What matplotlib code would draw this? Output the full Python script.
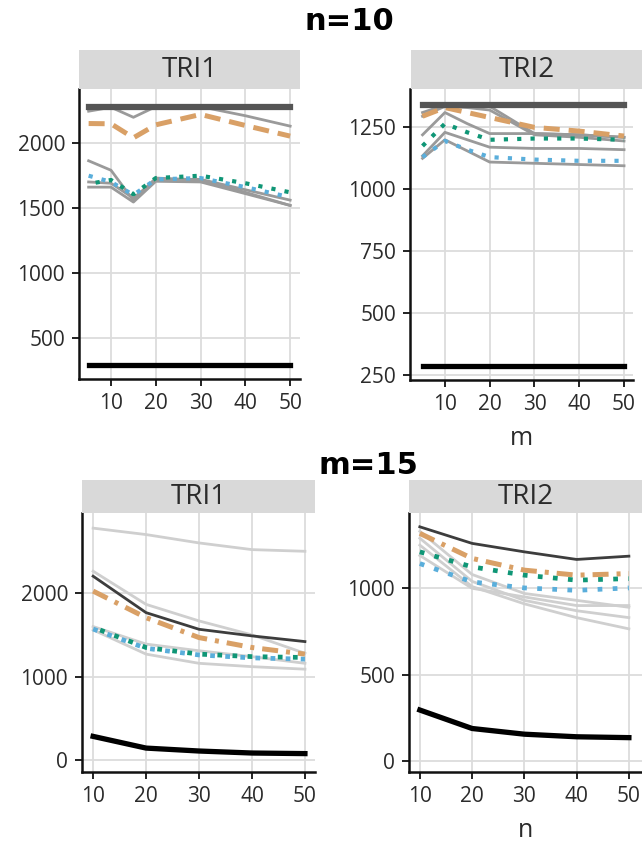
import matplotlib
matplotlib.use("Agg")
import matplotlib.pyplot as plt

# ---------------- data ----------------
m_values = [5, 10, 15, 20, 30, 40, 50]
n_values = [10, 20, 30, 40, 50]
x_ticks = [10, 20, 30, 40, 50]

# n = 10, TRI1 (x = m)
n10_tri1_dark   = [2280, 2280, 2280, 2280, 2280, 2280, 2280]
n10_tri1_grey1  = [2245, 2275, 2198, 2280, 2280, 2210, 2130]
n10_tri1_orange = [2150, 2148, 2040, 2140, 2220, 2135, 2053]
n10_tri1_grey2  = [1863, 1790, 1557, 1730, 1715, 1620, 1519]
n10_tri1_grey3  = [1700, 1690, 1575, 1720, 1720, 1640, 1560]
n10_tri1_grey4  = [1660, 1660, 1545, 1705, 1700, 1610, 1519]
n10_tri1_blue   = [1748, 1700, 1600, 1720, 1730, 1660, 1582]
n10_tri1_teal   = [1685, 1715, 1605, 1730, 1748, 1690, 1620]
n10_tri1_black  = [286, 286, 286, 286, 286, 286, 286]

# n = 10, TRI2 (x = m)
n10_tri2_dark   = [1340, 1340, 1340, 1340, 1340, 1340, 1340]
n10_tri2_greyA  = [1310, 1340, 1338, 1335, 1225, 1220, 1210]
n10_tri2_greyB  = [1295, 1335, 1330, 1320, 1220, 1210, 1195]
n10_tri2_orange = [1295, 1330, 1310, 1290, 1250, 1235, 1215]
n10_tri2_greyC  = [1220, 1310, 1265, 1225, 1225, 1220, 1210]
n10_tri2_teal   = [1175, 1265, 1230, 1200, 1205, 1205, 1200]
n10_tri2_greyD  = [1135, 1230, 1200, 1170, 1165, 1165, 1160]
n10_tri2_blue   = [1130, 1195, 1160, 1130, 1120, 1115, 1115]
n10_tri2_greyE  = [1125, 1200, 1155, 1110, 1105, 1100, 1095]
n10_tri2_black  = [286, 286, 286, 286, 286, 286, 286]

# m = 15, TRI1 (x = n)
m15_tri1_grey1  = [2777, 2700, 2600, 2520, 2500]
m15_tri1_grey2  = [2262, 1865, 1667, 1500, 1280]
m15_tri1_grey3  = [1600, 1390, 1310, 1240, 1160]
m15_tri1_grey4  = [1560, 1270, 1160, 1120, 1090]
m15_tri1_dark   = [2202, 1766, 1567, 1488, 1420]
m15_tri1_orange = [2024, 1706, 1468, 1349, 1270]
m15_tri1_blue   = [1570, 1340, 1260, 1225, 1210]
m15_tri1_teal   = [1590, 1349, 1270, 1240, 1230]
m15_tri1_black  = [286, 146, 111, 87, 80]

# m = 15, TRI2 (x = n)
m15_tri2_grey1  = [1330, 1080, 970, 930, 890]
m15_tri2_grey2  = [1290, 1040, 930, 870, 830]
m15_tri2_grey3  = [1250, 1010, 910, 830, 765]
m15_tri2_grey4  = [1190, 1000, 950, 900, 900]
m15_tri2_dark   = [1356, 1260, 1211, 1167, 1186]
m15_tri2_orange = [1318, 1173, 1105, 1076, 1085]
m15_tri2_teal   = [1211, 1124, 1076, 1047, 1056]
m15_tri2_blue   = [1143, 1037, 1002, 988, 1002]
m15_tri2_black  = [295, 188, 155, 140, 135]

# ---------------- style ----------------
plt.rcParams["font.family"] = ["Open Sans", "DejaVu Sans"]
W, H = 642, 847
fig = plt.figure(figsize=(W / 100, H / 100), dpi=100)

C_DARK = "#555555"
C_GREY = "#9a9a9a"
C_LGREY = "#cfcfcf"
C_ORANGE = "#d9a066"
C_TEAL = "#0f9676"
C_BLUE = "#5aaedb"
C_TXT = "#2b2b2b"

def px_axes(x0, y0, x1, y1, **kw):
    return fig.add_axes([x0 / W, 1 - y1 / H, (x1 - x0) / W, (y1 - y0) / H], **kw)

def strip(x0, y0, x1, y1, label):
    s = px_axes(x0, y0, x1, y1)
    s.set_facecolor("#d9d9d9")
    s.set_xticks([]); s.set_yticks([])
    for sp in s.spines.values():
        sp.set_visible(False)
    s.text(0.5, 0.48, label, ha="center", va="center", fontsize=20,
           color=C_TXT, transform=s.transAxes)

def style_axes(ax, xlim, ylim, yticks):
    ax.set_xlim(*xlim); ax.set_ylim(*ylim)
    ax.set_xticks(x_ticks); ax.set_yticks(yticks)
    ax.grid(True, color="#dcdcdc", lw=1.3)
    ax.set_axisbelow(True)
    for side in ("top", "right"):
        ax.spines[side].set_visible(False)
    for side in ("left", "bottom"):
        ax.spines[side].set_linewidth(1.8)
        ax.spines[side].set_color("#111111")
    ax.tick_params(length=5, width=1.4, color="#222222", labelsize=15,
                   labelcolor=C_TXT, pad=5)

dot = (0, (1, 2.2))

# ---- top-left: n=10 TRI1 ----
ax = px_axes(79, 89, 300, 379)
x = m_values
for g in (n10_tri1_grey2, n10_tri1_grey3, n10_tri1_grey4, n10_tri1_grey1):
    ax.plot(x, g, color=C_GREY, lw=2.0, zorder=2)
ax.plot(x, n10_tri1_orange, color=C_ORANGE, lw=3.6, ls=(0, (3.2, 1.8)), zorder=3)
ax.plot(x, n10_tri1_blue, color=C_BLUE, lw=3.0, ls=dot, zorder=3)
ax.plot(x, n10_tri1_teal, color=C_TEAL, lw=3.0, ls=(1.5, (1, 2.2)), zorder=4)
ax.plot(x, n10_tri1_dark, color=C_DARK, lw=4.5, zorder=5)
ax.plot(x, n10_tri1_black, color="black", lw=3.8, zorder=5)
style_axes(ax, (2.85, 52.2), (182, 2416), [500, 1000, 1500, 2000])
strip(79, 50, 300, 89, "TRI1")

# ---- top-right: n=10 TRI2 ----
ax = px_axes(410, 89, 633, 380)
for g in (n10_tri2_greyA, n10_tri2_greyB, n10_tri2_greyC, n10_tri2_greyD, n10_tri2_greyE):
    ax.plot(x, g, color=C_GREY, lw=2.0, zorder=2)
ax.plot(x, n10_tri2_orange, color=C_ORANGE, lw=3.6, ls=(0, (3.2, 1.8)), zorder=3)
ax.plot(x, n10_tri2_blue, color=C_BLUE, lw=3.0, ls=dot, zorder=3)
ax.plot(x, n10_tri2_teal, color=C_TEAL, lw=3.0, ls=dot, zorder=4)
ax.plot(x, n10_tri2_dark, color=C_DARK, lw=4.5, zorder=5)
ax.plot(x, n10_tri2_black, color="black", lw=3.8, zorder=5)
style_axes(ax, (2.2, 52.0), (230, 1405), [250, 500, 750, 1000, 1250])
ax.set_xlabel("m", fontsize=18, color=C_TXT, labelpad=8)
strip(411, 50, 642, 89, "TRI2")

# ---- bottom-left: m=15 TRI1 ----
ax = px_axes(82, 513, 315, 772)
x = n_values
for g in (m15_tri1_grey1, m15_tri1_grey2, m15_tri1_grey3, m15_tri1_grey4):
    ax.plot(x, g, color=C_LGREY, lw=2.0, zorder=2)
ax.plot(x, m15_tri1_dark, color="#3d3d3d", lw=2.0, zorder=3)
ax.plot(x, m15_tri1_orange, color=C_ORANGE, lw=3.6, ls=(0, (3.2, 1.6, 0.8, 1.6)), zorder=3)
ax.plot(x, m15_tri1_blue, color=C_BLUE, lw=3.4, ls=dot, zorder=3)
ax.plot(x, m15_tri1_teal, color=C_TEAL, lw=3.4, ls=(1.6, (1, 2.2)), zorder=4)
ax.plot(x, m15_tri1_black, color="black", lw=3.8, zorder=5)
style_axes(ax, (7.9, 51.9), (-140, 2958), [0, 1000, 2000])
strip(82, 480, 315, 513, "TRI1")

# ---- bottom-right: m=15 TRI2 ----
ax = px_axes(409, 513, 643, 772)
for g in (m15_tri2_grey1, m15_tri2_grey2, m15_tri2_grey3, m15_tri2_grey4):
    ax.plot(x, g, color=C_LGREY, lw=2.0, zorder=2)
ax.plot(x, m15_tri2_dark, color="#3d3d3d", lw=2.0, zorder=3)
ax.plot(x, m15_tri2_orange, color=C_ORANGE, lw=3.6, ls=(0, (3.2, 1.6, 0.8, 1.6)), zorder=3)
ax.plot(x, m15_tri2_blue, color=C_BLUE, lw=3.4, ls=dot, zorder=3)
ax.plot(x, m15_tri2_teal, color=C_TEAL, lw=3.4, ls=dot, zorder=4)
ax.plot(x, m15_tri2_black, color="black", lw=3.8, zorder=5)
style_axes(ax, (7.93, 52.7), (-64, 1436), [0, 500, 1000])
ax.set_xlabel("n", fontsize=18, color=C_TXT, labelpad=8)
strip(409, 480, 643, 513, "TRI2")

# ---- section titles ----
fig.text(349 / W, 1 - 22 / H, "n=10", ha="center", va="center",
         fontsize=22, fontweight="bold", family="DejaVu Sans")
fig.text(368 / W, 1 - 465 / H, "m=15", ha="center", va="center",
         fontsize=22, fontweight="bold", family="DejaVu Sans")

fig.savefig("out.png", dpi=100)
